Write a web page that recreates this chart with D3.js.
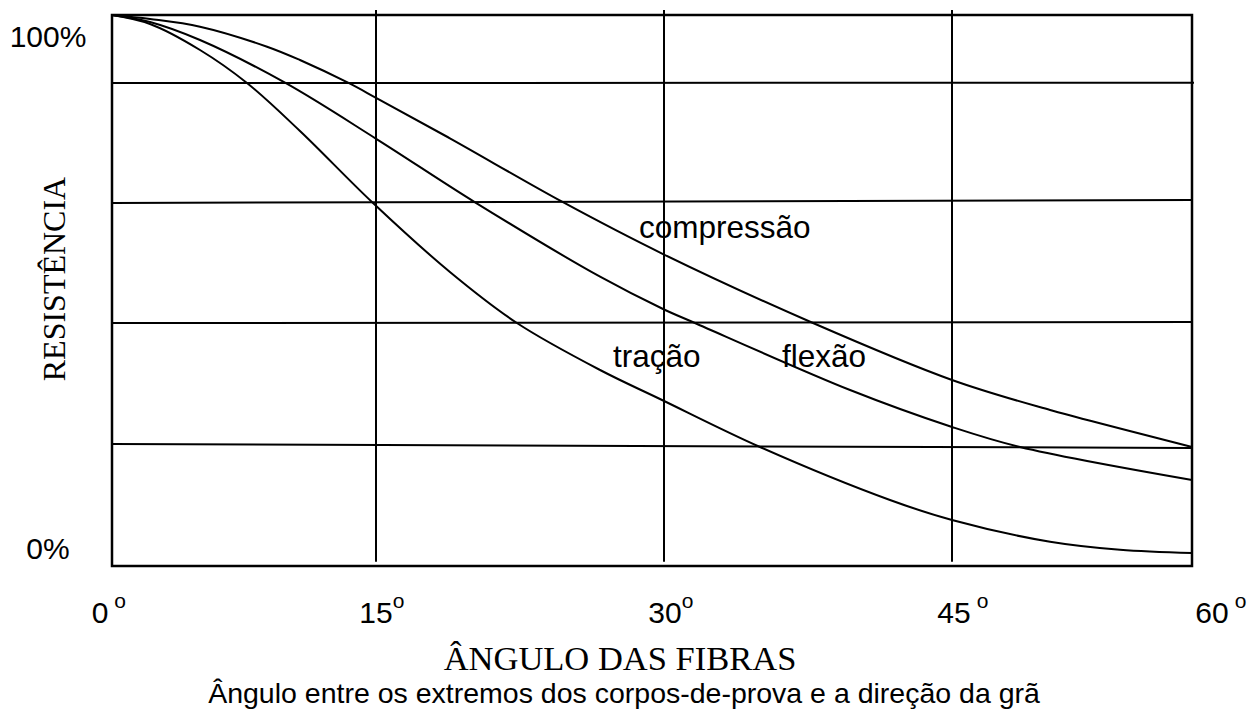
<!DOCTYPE html>
<html>
<head>
<meta charset="utf-8">
<script src="https://cdn.jsdelivr.net/npm/d3@7"></script>
<style>
  html, body { margin: 0; padding: 0; background: #fff; }
  svg { display: block; }
  .sans { font-family: "Liberation Sans", Arial, sans-serif; }
  .serif { font-family: "Liberation Serif", "Times New Roman", serif; }
</style>
</head>
<body>
<svg id="chart" width="1249" height="711"></svg>
<script>
// ---- data (angle in degrees, resistance in %) ----
const xTicks = [0, 15, 30, 45, 60];
const tickLabelText = ["0", "15", "30", "45", "60"];
const tickLabelSpaced = [true, false, false, true, true];
const yLabels = ["0%", "100%"];
const yLabelValues = [0, 100];

const compressaoX = [0, 2.16, 5.0, 8.81, 10.68, 13.41, 15.05, 18.85, 24.69, 29.95, 37.76, 45, 51.13, 60];
const compressaoY = [100, 99.27, 97.88, 94.25, 91.83, 87.71, 84.88, 77.62, 66.12, 56.62, 44.1, 33.76, 28.31, 21.6];

const flexaoX = [0, 2.16, 5.0, 9.83, 15.05, 20.16, 26.67, 29.95, 31.61, 39.69, 45, 49.25, 60];
const flexaoY = [100, 98.73, 95.46, 87.71, 77.44, 66.01, 52.5, 46.64, 44.1, 31.94, 25.23, 21.6, 15.61];

const tracaoX = [0, 2.16, 5.0, 7.67, 10.68, 14.83, 18.85, 22.34, 26.67, 29.79, 35.0, 41.77, 45, 51.13, 55.5, 60];
const tracaoY = [100, 98.37, 93.65, 87.66, 78.95, 65.88, 53.36, 44.1, 35.57, 30.31, 21.6, 11.98, 8.35, 4.4, 2.95, 2.36];

// horizontal grid lines (value at left edge, value at right edge)
const hGridLeft = [87.66, 65.88, 44.1, 22.14];
const hGridRight = [87.71, 66.43, 44.28, 21.42];
const vGrid = [15, 30, 45];

const seriesNames = ["compressão", "tração", "flexão"];
const seriesLabelX = [28.7, 27.34, 36.15];
const seriesLabelY = [59.53, 36.12, 36.12];

const xTitle = "ÂNGULO DAS FIBRAS";
const yTitle = "RESISTÊNCIA";
const subtitle = "Ângulo entre os extremos dos corpos-de-prova e a direção da grã";

// ---- scales ----
const x = d3.scaleLinear().domain(xTicks).range([112, 376, 664, 952, 1192]);
const xLabel = d3.scaleLinear().domain(xTicks).range([100, 376, 665, 954, 1212]);
const y = d3.scaleLinear().domain([0, 100]).range([566, 15]);

const svg = d3.select("#chart");
const ink = "#000";

// grid: vertical
svg.append("g").selectAll("line").data(vGrid).join("line")
  .attr("x1", d => x(d)).attr("x2", d => x(d))
  .attr("y1", y(100.9)).attr("y2", y(0.75))
  .attr("stroke", ink).attr("stroke-width", 2);

// grid: horizontal (slightly slanted as in the original)
svg.append("g").selectAll("line").data(hGridLeft).join("line")
  .attr("x1", x(0)).attr("x2", (d, i) => i === 0 ? x(60) + 2 : x(60))
  .attr("y1", d => y(d)).attr("y2", (d, i) => y(hGridRight[i]))
  .attr("stroke", ink).attr("stroke-width", 2);

// frame
svg.append("rect")
  .attr("x", x(0)).attr("y", y(100))
  .attr("width", x(60) - x(0)).attr("height", y(0) - y(100))
  .attr("fill", "none").attr("stroke", ink).attr("stroke-width", 2.5);

// curves
const line = d3.line().x(d => x(d[0])).y(d => y(d[1])).curve(d3.curveCatmullRom.alpha(0.5));
const series = [
  d3.zip(compressaoX, compressaoY),
  d3.zip(flexaoX, flexaoY),
  d3.zip(tracaoX, tracaoY)
];
svg.append("g").selectAll("path").data(series).join("path")
  .attr("d", line)
  .attr("fill", "none").attr("stroke", ink).attr("stroke-width", 2);

// series labels
svg.append("g").selectAll("text").data(seriesNames).join("text")
  .attr("class", "sans")
  .attr("x", (d, i) => x(seriesLabelX[i]))
  .attr("y", (d, i) => y(seriesLabelY[i]))
  .attr("font-size", 31.5)
  .attr("fill", ink)
  .text(d => d);

// y labels
svg.append("g").selectAll("text").data(yLabels).join("text")
  .attr("class", "sans")
  .attr("x", 48)
  .attr("y", (d, i) => yLabelValues[i] === 100 ? y(100) + 32 : y(0) - 7)
  .attr("text-anchor", "middle")
  .attr("font-size", 30)
  .attr("fill", ink)
  .text(d => d);

// x tick labels with superscript "o"
const tickG = svg.append("g");
xTicks.forEach((t, i) => {
  const num = tickG.append("text")
    .attr("class", "sans")
    .attr("x", xLabel(t)).attr("y", 623)
    .attr("text-anchor", "middle")
    .attr("font-size", 30).attr("fill", ink)
    .text(tickLabelText[i]);
  const w = num.node().getComputedTextLength();
  tickG.append("text")
    .attr("class", "sans")
    .attr("x", xLabel(t) + w / 2 + (tickLabelSpaced[i] ? 6 : 0))
    .attr("y", 608)
    .attr("font-size", 21).attr("fill", ink)
    .text("o");
});

// axis titles
svg.append("text")
  .attr("class", "serif")
  .attr("x", 620).attr("y", 670)
  .attr("text-anchor", "middle")
  .attr("font-size", 34.5).attr("fill", ink)
  .text(xTitle);

svg.append("text")
  .attr("class", "serif")
  .attr("transform", "translate(65,279) rotate(-90)")
  .attr("text-anchor", "middle")
  .attr("font-size", 32).attr("fill", ink)
  .text(yTitle);

svg.append("text")
  .attr("class", "sans")
  .attr("x", 624).attr("y", 703)
  .attr("text-anchor", "middle")
  .attr("font-size", 28.5).attr("fill", ink)
  .text(subtitle);
</script>
</body>
</html>
